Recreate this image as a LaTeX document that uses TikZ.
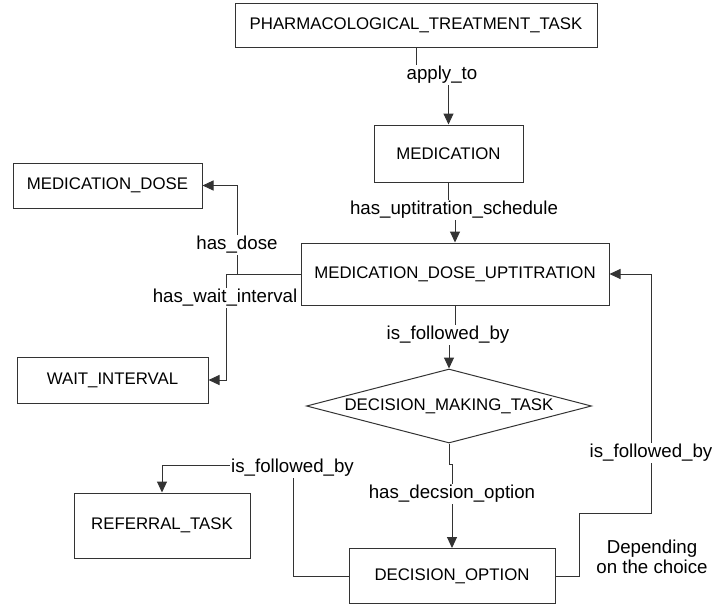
\documentclass[tikz,border=0pt]{standalone}
\usepackage{fontspec}
\setmainfont{Liberation Sans}
\usetikzlibrary{shapes.geometric,arrows.meta}
\begin{document}
\begin{tikzpicture}[x=1pt,y=-1pt,
  box/.style={draw=black!80, line width=1pt, inner sep=0pt, font=\fontsize{16.8}{20}\selectfont},
  dia/.style={box, diamond, shape aspect=3.85, minimum width=285pt, minimum height=74pt},
  lbl/.style={fill=white, inner sep=1.5pt, font=\fontsize{18.7}{21}\selectfont},
  conn/.style={draw=black!80, line width=1pt},
  arr/.style={conn, -{Triangle[length=11pt,width=10pt]}}
]
\useasboundingbox (0,0) rectangle (712,606);
\node[box, minimum width=362pt, minimum height=44pt] (pharma) at (416,25) {PHARMACOLOGICAL\_TREATMENT\_TASK};
\node[box, minimum width=149pt, minimum height=57pt] (med) at (448.5,153.5) {MEDICATION};
\node[box, minimum width=308pt, minimum height=62pt] (mdu) at (455,274) {MEDICATION\_DOSE\_UPTITRATION};
\node[box, minimum width=189pt, minimum height=45pt] (dose) at (107.5,185.5) {MEDICATION\_DOSE};
\node[box, minimum width=191pt, minimum height=46pt] (wait) at (112.5,380) {WAIT\_INTERVAL};
\node[dia] (dmt) at (449,406) {DECISION\_MAKING\_TASK};
\node[box, minimum width=176pt, minimum height=65pt] (referral) at (162,525.5) {REFERRAL\_TASK};
\node[box, minimum width=206pt, minimum height=55pt] (dopt) at (452,576) {DECISION\_OPTION};

\draw[arr] (pharma.south) -- ++(0,25) -| (med.north);
\draw[arr] (med.south) -- ++(0,28) -| (mdu.north);
\draw[arr] (mdu.south) -- ++(0,30) -| (dmt.north);
\draw[arr] (dmt.south) -- ++(0,21) -| (dopt.north);
\draw[arr] (mdu.west) -- (237,274) |- (dose.east);
\draw[arr] (mdu.west) -- (226,274) |- (wait.east);
\draw[arr] (dopt.west) -| (293,465) -| (referral.north);
\draw[arr] (dopt.east) -| (579,513) -- (651,513) |- (mdu.east);

\node[lbl] (l1) at (442,75) {apply\_to};
\node[lbl] (l2) at (454,210) {has\_uptitration\_schedule};
\node[lbl] (l3) at (448,335) {is\_followed\_by};
\node[lbl] (l4) at (452,494) {has\_decsion\_option};
\node[lbl] (l5) at (237,245) {has\_dose};
\node[lbl] (l6) at (225,298) {has\_wait\_interval};
\node[lbl] (l7) at (292.5,468) {is\_followed\_by};
\node[lbl] (l8) at (651,453) {is\_followed\_by};
\node[align=center, inner sep=0pt, font=\fontsize{18.7}{20}\selectfont] (dep) at (652,557) {Depending\\on the choice};
\end{tikzpicture}
\end{document}
